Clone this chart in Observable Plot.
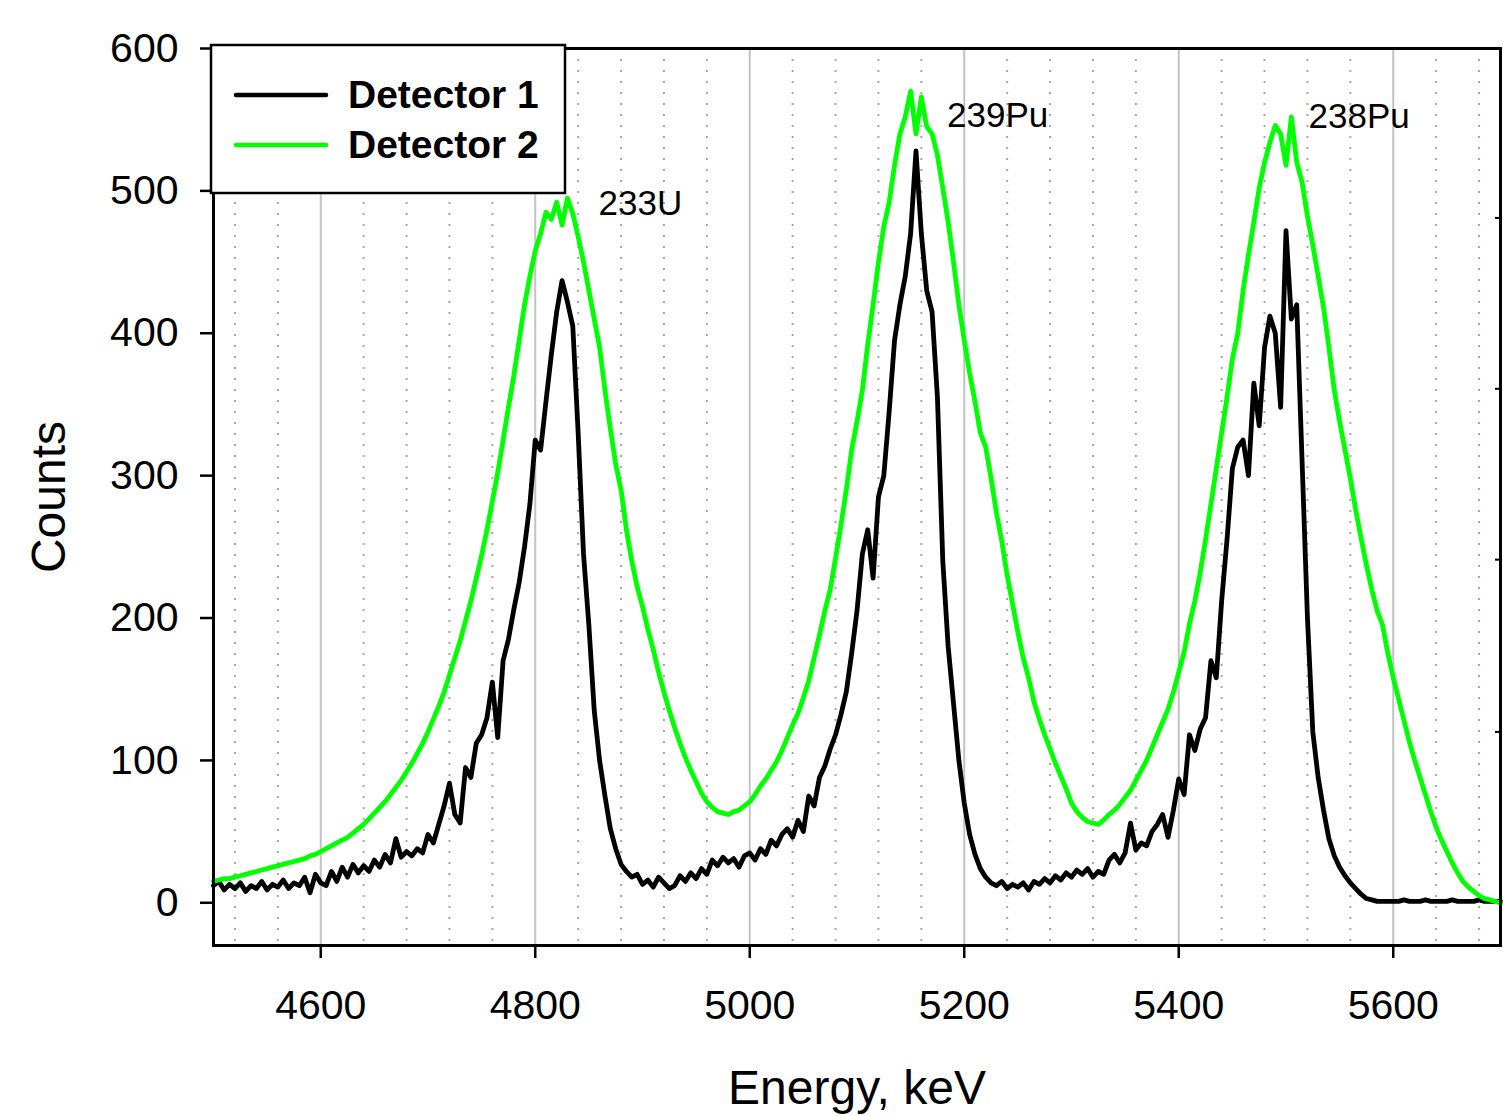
<!DOCTYPE html>
<html>
<head>
<meta charset="utf-8">
<script src="https://cdn.jsdelivr.net/npm/d3@7"></script>
<script src="https://cdn.jsdelivr.net/npm/@observablehq/plot@0.6"></script>
<style>
  html, body { margin: 0; padding: 0; background: white; }
  #chart svg { display: block; }
</style>
</head>
<body>
<div id="chart"></div>
<script>
// ---- data ----
const energyStart = 4500;   // keV
const energyStep = 5;       // keV per point

// Detector 1 counts (black), 4500..5700 keV every 5 keV
const detector1Counts = [
  12,15,9,13,10,14,8,12,10,15,9,13,11,16,10,14,12,18,7,20,
  14,12,22,15,25,18,27,21,26,22,30,25,34,28,45,32,36,33,38,35,
  48,42,55,68,84,62,56,95,88,112,118,130,155,116,170,185,206,225,250,280,
  325,318,352,385,415,437,422,405,330,245,195,135,100,75,52,38,27,22,18,20,
  13,16,11,18,14,10,12,19,15,21,17,24,20,30,26,32,28,31,25,33,
  35,30,38,34,44,40,48,52,46,58,50,75,68,88,96,108,118,132,148,175,
  205,245,262,228,285,300,345,395,420,440,470,528,470,430,415,355,240,180,140,100,
  70,48,34,24,18,14,12,15,10,13,11,14,9,15,13,17,14,19,16,21,
  18,23,20,24,18,22,20,30,34,28,35,56,37,42,40,50,55,62,46,65,
  87,76,118,107,122,130,170,158,212,255,305,320,325,300,365,335,390,412,400,348,
  472,410,420,310,200,120,88,65,45,33,25,19,14,10,6,3,2,1,1,1,
  1,1,2,1,1,1,2,1,1,1,1,2,1,1,1,1,2,1,1,1,
  1
];

// Detector 2 counts (green), 4500..5700 keV every 5 keV
const detector2Counts = [
  15,16,17,17,18,19,20,21,22,23,24,25,26,27,28,29,30,31,33,34,
  36,38,40,42,44,46,49,52,55,59,63,67,71,76,81,86,92,98,105,112,
  120,129,138,148,160,172,184,198,212,228,244,262,282,302,325,348,370,395,420,440,
  458,470,485,480,492,476,495,484,468,450,430,410,390,360,333,308,290,262,240,222,
  208,192,178,162,148,135,123,112,102,93,85,77,71,67,64,63,62,64,65,68,
  71,76,82,87,93,99,107,116,125,133,144,156,172,188,205,220,242,265,290,318,
  338,360,392,420,450,475,492,518,540,552,570,540,566,545,540,525,502,478,450,420,
  395,372,352,330,320,298,274,254,230,210,190,172,158,141,129,118,108,98,89,80,
  70,64,60,57,56,55,58,62,65,69,74,79,86,93,100,109,118,127,136,148,
  162,176,196,212,232,255,280,305,330,355,382,400,430,455,478,502,520,534,546,540,
  518,552,520,506,482,462,440,418,390,360,338,318,298,276,256,237,220,205,195,175,
  158,143,128,113,100,88,76,64,53,44,36,28,21,15,11,8,5,3,2,1,
  0
];

const seriesNames = ["Detector 1", "Detector 2"];
const seriesColors = ["#000000", "#00ff00"];

const xTicks = [4600, 4800, 5000, 5200, 5400, 5600];
const xMinorGrid = [4520, 4560, 4640, 4680, 4720, 4760, 4840, 4880, 4920, 4960,
  5040, 5080, 5120, 5160, 5240, 5280, 5320, 5360, 5440, 5480, 5520, 5560, 5640, 5680];
const yTicks = [0, 100, 200, 300, 400, 500, 600];
const rightAxisTicks = [120, 241, 361, 481];

const peakNames = ["233U", "239Pu", "238Pu"];
const peakLabelEnergy = [4859, 5184, 5521];
const peakLabelCounts = [491, 553, 552];

const xLabel = "Energy, keV";
const yLabel = "Counts";

// ---- build tables ----
const det1 = detector1Counts.map((c, i) => ({energy: energyStart + i * energyStep, counts: c}));
const det2 = detector2Counts.map((c, i) => ({energy: energyStart + i * energyStep, counts: c}));
const peaks = peakNames.map((n, i) => ({name: n, energy: peakLabelEnergy[i], counts: peakLabelCounts[i]}));

const FONT = "'Liberation Sans', Arial, Helvetica, sans-serif";

const chart = Plot.plot({
  width: 1503,
  height: 1116,
  marginLeft: 213,
  marginRight: 3,
  marginTop: 48,
  marginBottom: 171,
  x: {domain: [4500, 5700]},
  y: {domain: [-30, 600]},
  style: {fontFamily: FONT, background: "white", color: "black", overflow: "visible"},
  marks: [
    Plot.ruleX(xMinorGrid, {stroke: "#a6a6a6", strokeWidth: 2, strokeDasharray: "2,9"}),
    Plot.ruleX(xTicks, {stroke: "#c2c2c2", strokeWidth: 2}),
    Plot.lineY(det1, {x: "energy", y: "counts", stroke: seriesColors[0], strokeWidth: 4.8, strokeLinejoin: "round"}),
    Plot.lineY(det2, {x: "energy", y: "counts", stroke: seriesColors[1], strokeWidth: 4.8, strokeLinejoin: "round"}),
    Plot.frame({stroke: "black", strokeWidth: 3}),
    Plot.axisX({ticks: xTicks, tickSize: 13, tickPadding: 31, fontSize: 41, label: null, strokeWidth: 2.5, tickFormat: d => String(d)}),
    Plot.axisY({ticks: yTicks, tickSize: 13, tickPadding: 22, fontSize: 41, label: null, strokeWidth: 2.5, tickFormat: d => String(d)}),
    Plot.axisY({anchor: "right", ticks: rightAxisTicks, tickSize: 6, dx: -6, label: null, strokeWidth: 2, tickFormat: () => ""}),
    Plot.text(peaks, {x: "energy", y: "counts", text: "name", textAnchor: "start", fontSize: 35, fill: "black"}),
    Plot.text([xLabel], {frameAnchor: "bottom", textAnchor: "middle", dy: 158, fontSize: 48, fill: "black"}),
    Plot.text([yLabel], {frameAnchor: "left", textAnchor: "middle", dx: -164, rotate: -90, fontSize: 48, fill: "black"})
  ]
});

document.getElementById("chart").appendChild(chart);

// ---- legend box (drawn over the plot, top-left) ----
const svg = d3.select(chart);
const lg = svg.append("g").attr("class", "legend").attr("text-anchor", "start");
lg.append("rect")
  .attr("x", 211).attr("y", 45).attr("width", 354).attr("height", 148)
  .attr("fill", "white").attr("stroke", "black").attr("stroke-width", 2.5);
seriesNames.forEach((name, i) => {
  const cy = 95 + i * 50;
  lg.append("line")
    .attr("x1", 236).attr("x2", 326).attr("y1", cy).attr("y2", cy)
    .attr("stroke", seriesColors[i]).attr("stroke-width", 4.5).attr("stroke-linecap", "round");
  lg.append("text")
    .attr("x", 348).attr("y", cy + 13)
    .attr("text-anchor", "start")
    .attr("font-family", FONT).attr("font-weight", "bold").attr("font-size", 39)
    .attr("fill", "black")
    .text(name);
});
</script>
</body>
</html>
